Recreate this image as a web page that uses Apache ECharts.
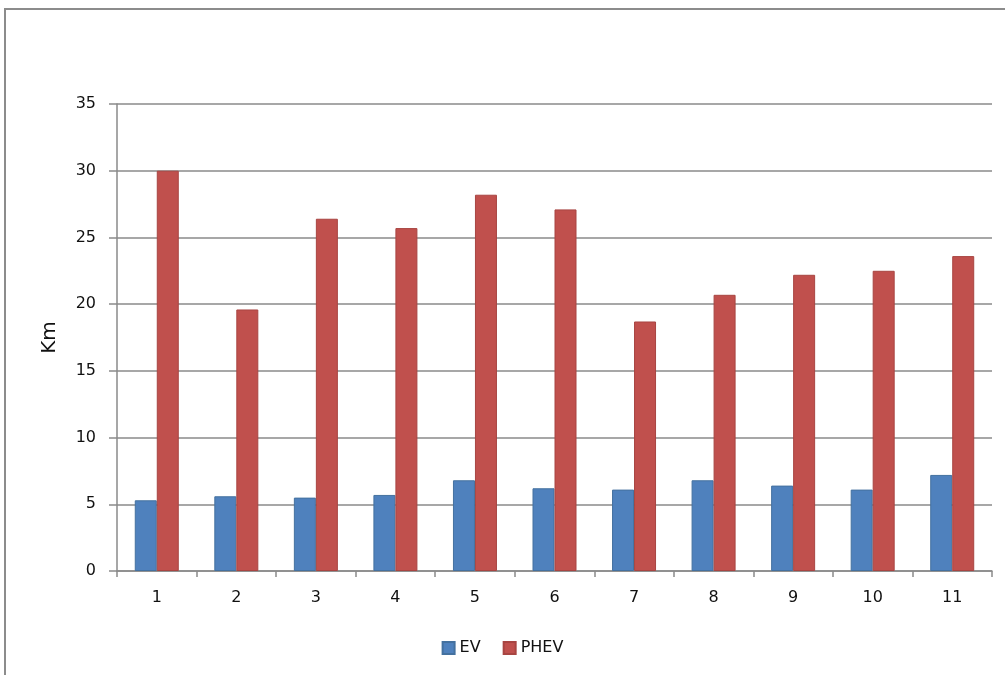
<!DOCTYPE html>
<html>
<head>
<meta charset="utf-8">
<title>EV vs PHEV</title>
<script src="https://cdn.jsdelivr.net/npm/echarts@6/dist/echarts.min.js"></script>
<style>
  html, body { margin: 0; padding: 0; background: #ffffff; }
  #chart { width: 1005px; height: 675px; }
</style>
</head>
<body>
<div id="chart"></div>
<script>
// Trip categories along the x axis
const categories = ['1', '2', '3', '4', '5', '6', '7', '8', '9', '10', '11'];
// Distance (km) per category for each vehicle type
const evValues   = [5.3, 5.6, 5.5, 5.7, 6.8, 6.2, 6.1, 6.8, 6.4, 6.1, 7.2];
const phevValues = [30.0, 19.6, 26.4, 25.7, 28.2, 27.1, 18.7, 20.7, 22.2, 22.5, 23.6];
const seriesNames = ['EV', 'PHEV'];
const yAxisName = 'Km';

const axisGray = '#8a8a8a';
const fontFamily = 'DejaVu Sans, Verdana, sans-serif';

const chart = echarts.init(document.getElementById('chart'), null, { renderer: 'canvas' });

chart.setOption({
  animation: false,
  backgroundColor: '#ffffff',
  graphic: [{
    // frame around the chart area (top and left edges visible)
    type: 'rect',
    shape: { x: 5, y: 9, width: 1100, height: 800 },
    style: { fill: 'none', stroke: '#8c8c8c', lineWidth: 2 },
    silent: true,
    z: 100
  }],
  grid: { left: 117, right: 13, top: 104, bottom: 104, containLabel: false },
  legend: {
    data: seriesNames,
    bottom: 14,
    left: 'center',
    itemWidth: 12,
    itemHeight: 12,
    itemGap: 22,
    icon: 'rect',
    textStyle: { fontFamily, fontSize: 16, color: '#111111' }
  },
  xAxis: {
    type: 'category',
    data: categories,
    axisLine: { lineStyle: { color: axisGray, width: 1.5 } },
    axisTick: { show: true, length: 6, lineStyle: { color: axisGray, width: 1.5 } },
    axisLabel: { fontFamily, fontSize: 16, color: '#111111', margin: 19 },
    splitLine: { show: false }
  },
  yAxis: {
    type: 'value',
    min: 0,
    max: 35,
    interval: 5,
    name: yAxisName,
    nameLocation: 'middle',
    nameGap: 57,
    nameTextStyle: { fontFamily, fontSize: 20, color: '#111111' },
    axisLine: { show: true, lineStyle: { color: axisGray, width: 1.5 } },
    axisTick: { show: true, length: 8, lineStyle: { color: axisGray, width: 1.5 } },
    axisLabel: { fontFamily, fontSize: 16, color: '#111111', margin: 21 },
    splitLine: { show: true, lineStyle: { color: axisGray, width: 1.5 } }
  },
  series: [
    {
      name: seriesNames[0],
      type: 'bar',
      data: evValues,
      barWidth: 22,
      barGap: '0%',
      itemStyle: { color: '#4F81BD', borderColor: '#44719f', borderWidth: 1 }
    },
    {
      name: seriesNames[1],
      type: 'bar',
      data: phevValues,
      barWidth: 22,
      barGap: '0%',
      itemStyle: { color: '#C0504D', borderColor: '#a84542', borderWidth: 1 }
    }
  ]
});
</script>
</body>
</html>
